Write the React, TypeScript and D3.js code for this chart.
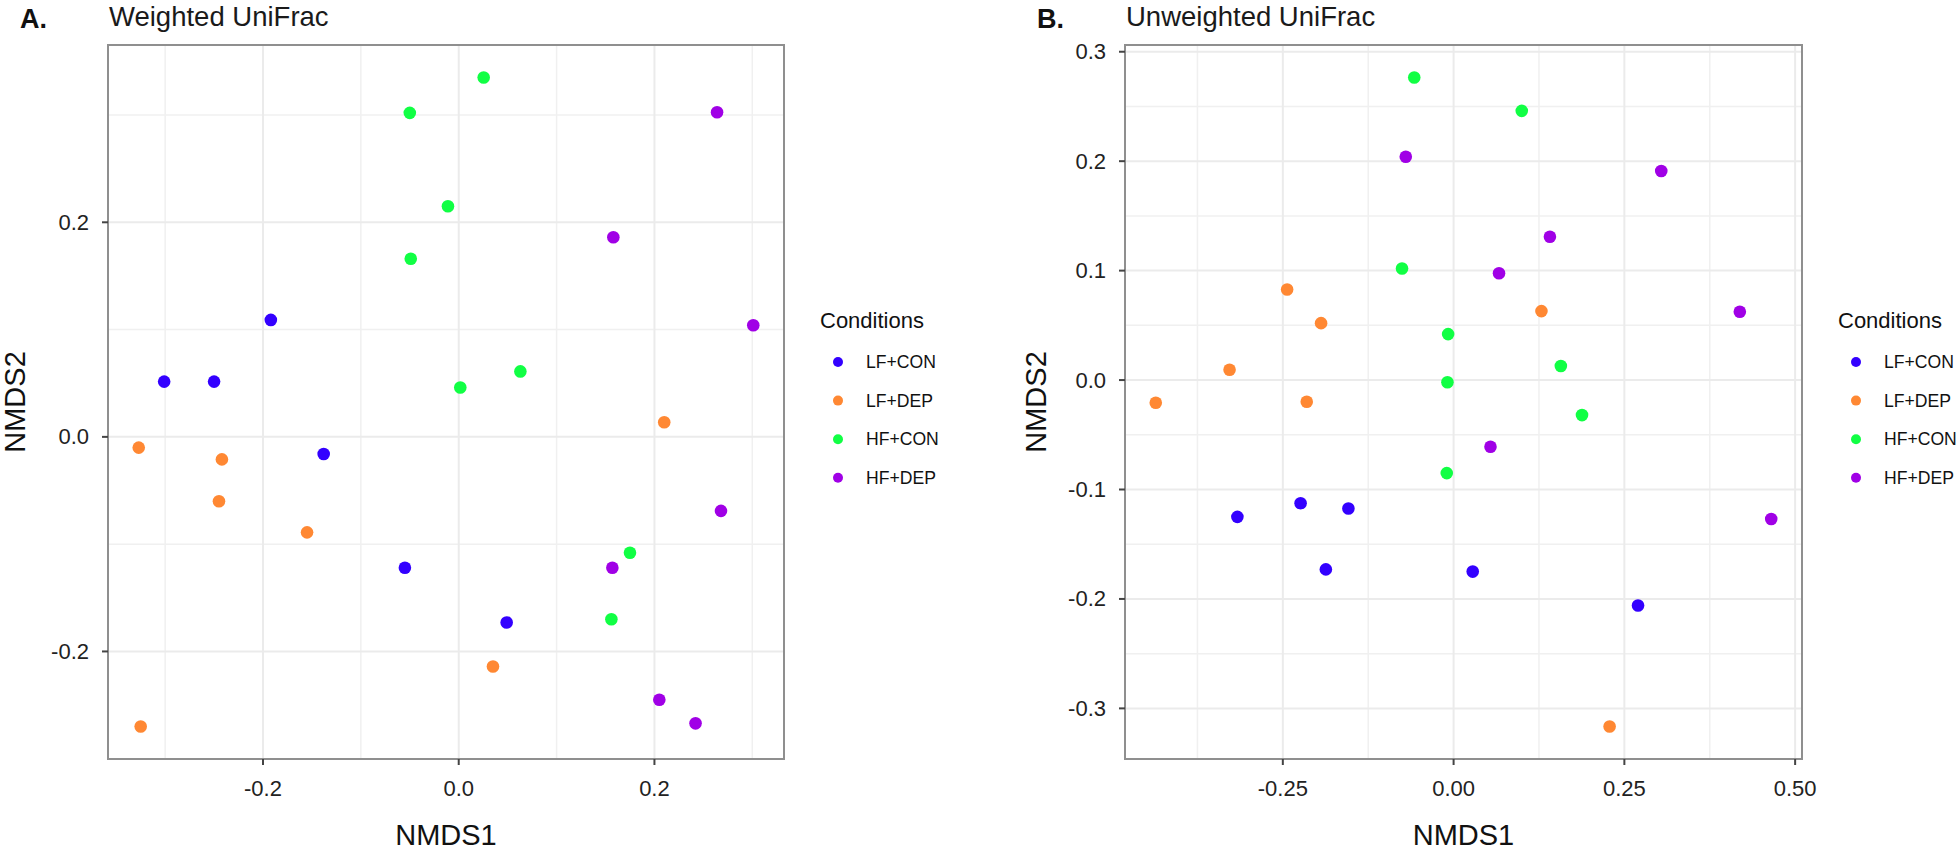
import React from "react";
import * as d3 from "d3";

// ---------- Data ----------
const groups = ["LF+CON", "LF+DEP", "HF+CON", "HF+DEP"];
const groupColors = ["#3300FF", "#FF8833", "#11FF44", "#A000E6"];

// Panel A: Weighted UniFrac
const wLFCON_x = [-0.192, -0.301, -0.25, -0.138, -0.055, 0.049];
const wLFCON_y = [0.109, 0.0515, 0.0515, -0.016, -0.122, -0.173];
const wLFDEP_x = [-0.327, -0.242, -0.245, -0.155, 0.21, 0.035, -0.325];
const wLFDEP_y = [-0.01, -0.021, -0.06, -0.089, 0.0136, -0.214, -0.27];
const wHFCON_x = [0.0255, -0.05, -0.011, -0.049, 0.0016, 0.063, 0.175, 0.156];
const wHFCON_y = [0.335, 0.302, 0.215, 0.166, 0.046, 0.061, -0.108, -0.17];
const wHFDEP_x = [0.264, 0.158, 0.301, 0.268, 0.157, 0.205, 0.242];
const wHFDEP_y = [0.3025, 0.186, 0.104, -0.069, -0.122, -0.245, -0.267];

// Panel B: Unweighted UniFrac
const uLFCON_x = [-0.3165, -0.224, -0.154, -0.187, 0.028, 0.27];
const uLFCON_y = [-0.125, -0.1125, -0.1174, -0.173, -0.175, -0.206];
const uLFDEP_x = [-0.2437, -0.194, -0.328, -0.436, -0.215, 0.1286, 0.2284];
const uLFDEP_y = [0.0828, 0.052, 0.0094, -0.0208, -0.0198, 0.063, -0.3166];
const uHFCON_x = [-0.0576, 0.0998, -0.0755, -0.008, -0.009, 0.157, 0.188, -0.01];
const uHFCON_y = [0.2765, 0.246, 0.102, 0.042, -0.002, 0.0129, -0.032, -0.085];
const uHFDEP_x = [-0.07, 0.304, 0.141, 0.0665, 0.419, 0.054, 0.465];
const uHFDEP_y = [0.204, 0.191, 0.131, 0.0976, 0.0624, -0.061, -0.127];

const weightedXTicks = [-0.2, 0.0, 0.2];
const weightedYTicks = [-0.2, 0.0, 0.2];
const unweightedXTicks = [-0.25, 0.0, 0.25, 0.5];
const unweightedYTicks = [-0.3, -0.2, -0.1, 0.0, 0.1, 0.2, 0.3];

type Pt = { x: number; y: number; g: number };

function zipGroup(xs: number[], ys: number[], g: number): Pt[] {
  return xs.map((x, i) => ({ x, y: ys[i], g }));
}

const weightedPts: Pt[] = [
  ...zipGroup(wLFCON_x, wLFCON_y, 0),
  ...zipGroup(wLFDEP_x, wLFDEP_y, 1),
  ...zipGroup(wHFCON_x, wHFCON_y, 2),
  ...zipGroup(wHFDEP_x, wHFDEP_y, 3),
];
const unweightedPts: Pt[] = [
  ...zipGroup(uLFCON_x, uLFCON_y, 0),
  ...zipGroup(uLFDEP_x, uLFDEP_y, 1),
  ...zipGroup(uHFCON_x, uHFCON_y, 2),
  ...zipGroup(uHFDEP_x, uHFDEP_y, 3),
];

function expanded(vals: number[]): [number, number] {
  const [lo, hi] = d3.extent(vals) as [number, number];
  const pad = (hi - lo) * 0.05;
  return [lo - pad, hi + pad];
}

function minorTicks(ticks: number[], domain: [number, number]): number[] {
  const step = ticks[1] - ticks[0];
  const out: number[] = [];
  const start = ticks[0] - step / 2;
  for (let v = start; v <= domain[1] + 1e-9; v += step) {
    if (v >= domain[0] - 1e-9) out.push(v);
  }
  return out;
}

const FONT = "'Liberation Sans', Arial, sans-serif";

type PanelProps = {
  pts: Pt[];
  left: number;
  right: number;
  top: number;
  bottom: number;
  xTicks: number[];
  yTicks: number[];
  xDigits: number;
  yDigits: number;
  letter: string;
  letterX: number;
  title: string;
  yTitleX: number;
  legendX: number;
};

function Panel(p: PanelProps) {
  const xDom = expanded(p.pts.map((d) => d.x));
  const yDom = expanded(p.pts.map((d) => d.y));
  const x = d3.scaleLinear().domain(xDom).range([p.left, p.right]);
  const y = d3.scaleLinear().domain(yDom).range([p.bottom, p.top]);
  const xMinor = minorTicks(p.xTicks, xDom);
  const yMinor = minorTicks(p.yTicks, yDom);
  const fmt = (v: number, dgt: number) => v.toFixed(dgt).replace("−", "-");
  const cx = (p.left + p.right) / 2;
  const cy = (p.top + p.bottom) / 2;
  return (
    <g>
      <text x={p.letterX} y={28} fontFamily={FONT} fontWeight={700} fontSize={27} fill="#111">
        {p.letter}
      </text>
      <text x={p.left + 1} y={26} fontFamily={FONT} fontSize={27.5} fill="#1a1a1a">
        {p.title}
      </text>
      {/* minor grid */}
      {xMinor.map((v, i) => (
        <line key={"xm" + i} x1={x(v)} x2={x(v)} y1={p.top} y2={p.bottom} stroke="#f0f0f0" strokeWidth={1.5} />
      ))}
      {yMinor.map((v, i) => (
        <line key={"ym" + i} x1={p.left} x2={p.right} y1={y(v)} y2={y(v)} stroke="#f0f0f0" strokeWidth={1.5} />
      ))}
      {/* major grid */}
      {p.xTicks.map((v, i) => (
        <line key={"xg" + i} x1={x(v)} x2={x(v)} y1={p.top} y2={p.bottom} stroke="#ebebeb" strokeWidth={2} />
      ))}
      {p.yTicks.map((v, i) => (
        <line key={"yg" + i} x1={p.left} x2={p.right} y1={y(v)} y2={y(v)} stroke="#ebebeb" strokeWidth={2} />
      ))}
      {/* points */}
      {p.pts.map((d, i) => (
        <circle key={"p" + i} cx={x(d.x)} cy={y(d.y)} r={6.3} fill={groupColors[d.g]} />
      ))}
      {/* border */}
      <rect x={p.left} y={p.top} width={p.right - p.left} height={p.bottom - p.top} fill="none" stroke="#8f8f8f" strokeWidth={2} />
      {/* x ticks */}
      {p.xTicks.map((v, i) => (
        <g key={"xt" + i}>
          <line x1={x(v)} x2={x(v)} y1={p.bottom} y2={p.bottom + 6} stroke="#444" strokeWidth={2} />
          <text x={x(v)} y={p.bottom + 29} textAnchor="middle" dominantBaseline="central" fontFamily={FONT} fontSize={22} fill="#222">
            {fmt(v, p.xDigits)}
          </text>
        </g>
      ))}
      {/* y ticks */}
      {p.yTicks.map((v, i) => (
        <g key={"yt" + i}>
          <line x1={p.left - 6} x2={p.left} y1={y(v)} y2={y(v)} stroke="#444" strokeWidth={2} />
          <text x={p.left - 19} y={y(v)} textAnchor="end" dominantBaseline="central" fontFamily={FONT} fontSize={22} fill="#222">
            {fmt(v, p.yDigits)}
          </text>
        </g>
      ))}
      {/* axis titles */}
      <text x={cx} y={845} textAnchor="middle" fontFamily={FONT} fontSize={29} fill="#111">
        NMDS1
      </text>
      <text
        transform={`translate(${p.yTitleX},${cy}) rotate(-90)`}
        textAnchor="middle"
        fontFamily={FONT}
        fontSize={29}
        fill="#111"
      >
        NMDS2
      </text>
      {/* legend */}
      <text x={p.legendX} y={328} fontFamily={FONT} fontSize={22} fill="#111">
        Conditions
      </text>
      {groups.map((gname, i) => (
        <g key={"lg" + i}>
          <circle cx={p.legendX + 18} cy={362 + i * 38.6} r={5} fill={groupColors[i]} />
          <text x={p.legendX + 46} y={362 + i * 38.6} dominantBaseline="central" fontFamily={FONT} fontSize={17.6} fill="#111">
            {gname}
          </text>
        </g>
      ))}
    </g>
  );
}

export default function App() {
  return (
    <svg
      width={1960}
      height={852}
      viewBox="0 0 1960 852"
      style={{ position: "absolute", left: 0, top: 0, display: "block", background: "#fff" }}
    >
      <rect x={0} y={0} width={1960} height={852} fill="#fff" />
      <Panel
        pts={weightedPts}
        left={108}
        right={784}
        top={45}
        bottom={759}
        xTicks={weightedXTicks}
        yTicks={weightedYTicks}
        xDigits={1}
        yDigits={1}
        letter="A."
        letterX={20}
        title="Weighted UniFrac"
        yTitleX={25}
        legendX={820}
      />
      <Panel
        pts={unweightedPts}
        left={1125}
        right={1802}
        top={45}
        bottom={759}
        xTicks={unweightedXTicks}
        yTicks={unweightedYTicks}
        xDigits={2}
        yDigits={1}
        letter="B."
        letterX={1037}
        title="Unweighted UniFrac"
        yTitleX={1046}
        legendX={1838}
      />
    </svg>
  );
}
